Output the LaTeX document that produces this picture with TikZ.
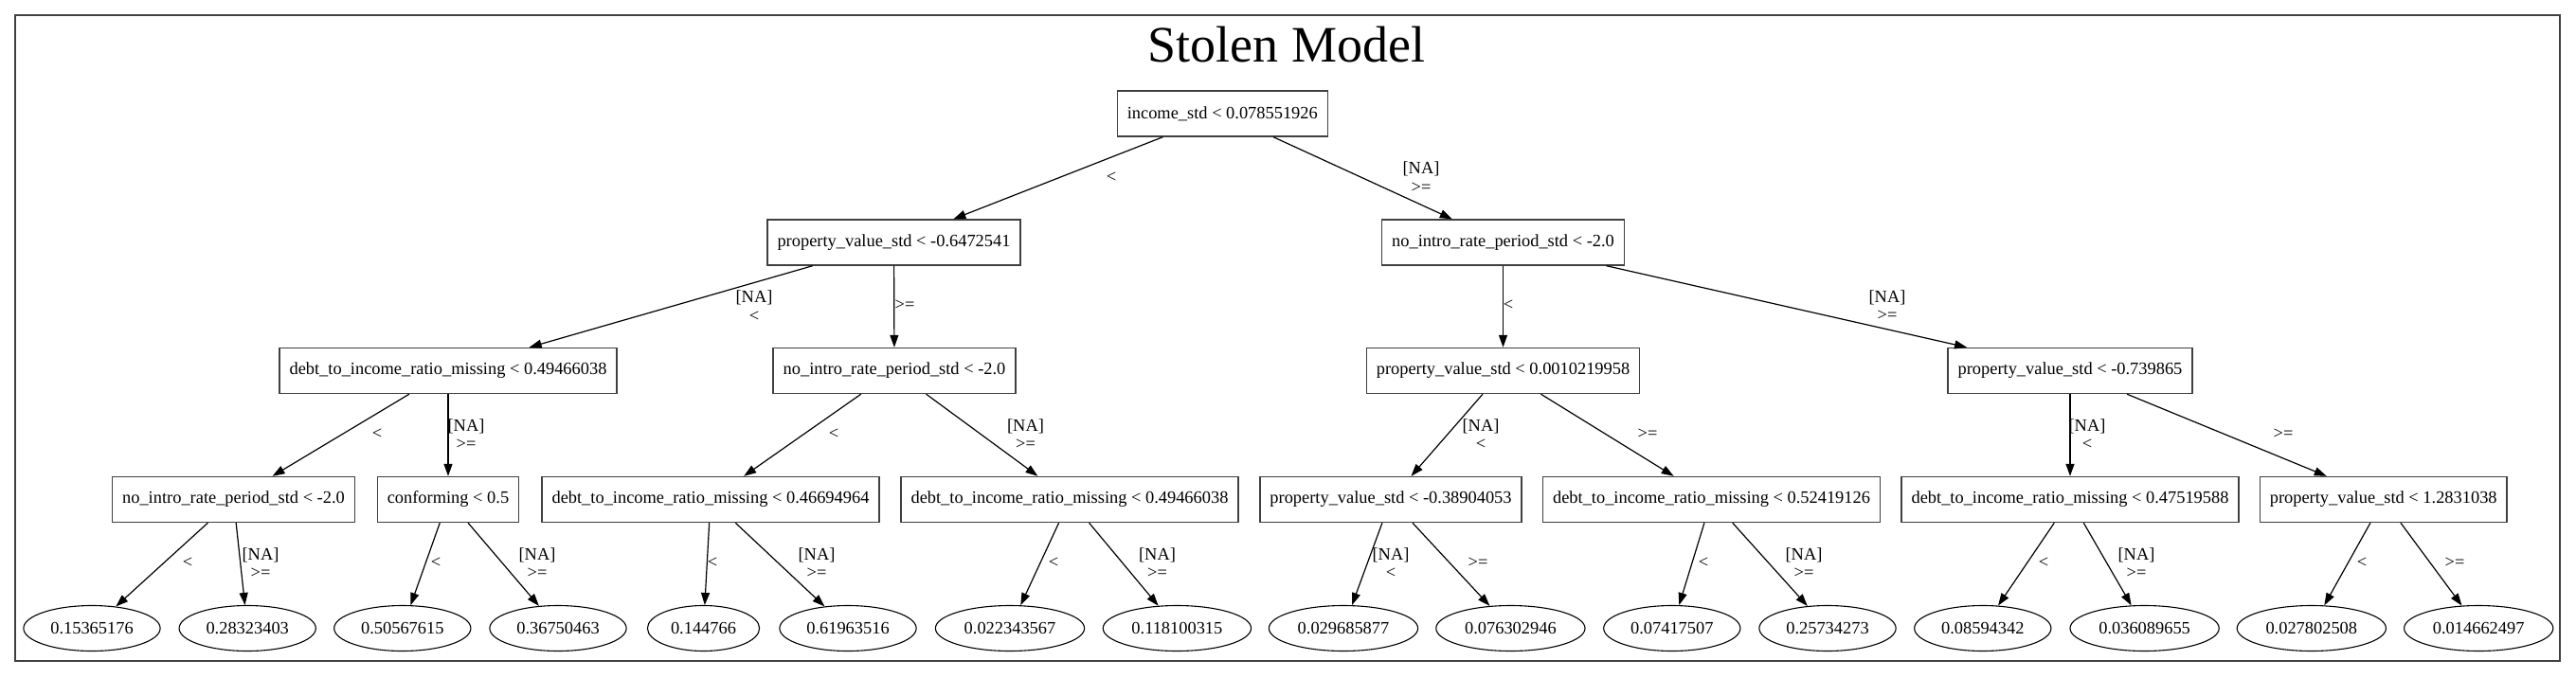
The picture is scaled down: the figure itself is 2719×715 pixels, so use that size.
\documentclass[tikz,border=0pt]{standalone}
\usepackage{fontspec}
\setmainfont{Liberation Serif}
\usepackage{tikz}
\usetikzlibrary{arrows.meta, shapes.geometric}
\definecolor{boxgray}{RGB}{64, 64, 64}

\begin{document}
\begin{tikzpicture}[
  x=1pt, y=-1pt,
  every node/.style={font=\fontsize{18.4}{19.5}\selectfont},
  split/.style={draw=boxgray, line width=1.4pt, rectangle, inner xsep=10.5pt, inner ysep=2pt, minimum height=48pt},
  leaf/.style={draw, line width=1.1pt, ellipse, inner xsep=7.3pt, inner ysep=2pt, minimum height=48pt},
  edge/.style={-{Triangle[length=13pt, width=9pt]}, line width=1.2pt},
  lab/.style={align=center, inner sep=0pt}
]
  \useasboundingbox (0,0) rectangle (2719,715);
  \draw[boxgray, line width=1.6pt] (16,16) rectangle (2702,698);
  \node[anchor=base, font=\fontsize{54}{60}\selectfont] (title) at (1358,65) {Stolen Model};

  % Wurzel und erste Ebene
  \node[split] (root) at (1290.3,120) {income\_std < 0.078551926};
  \node[split] (pv1) at (943.5,256) {property\_value\_std < -0.6472541};
  \node[split] (nir1) at (1586.5,256) {no\_intro\_rate\_period\_std < -2.0};

  % zweite Ebene
  \node[split] (dti2) at (473,391.5) {debt\_to\_income\_ratio\_missing < 0.49466038};
  \node[split] (nir2) at (944,391.5) {no\_intro\_rate\_period\_std < -2.0};
  \node[split] (pv2) at (1586.5,391.5) {property\_value\_std < 0.0010219958};
  \node[split] (pv3) at (2185,391.5) {property\_value\_std < -0.739865};

  % dritte Ebene
  \node[split] (nir3) at (246.5,527.5) {no\_intro\_rate\_period\_std < -2.0};
  \node[split] (conf) at (473,527.5) {conforming < 0.5};
  \node[split] (dti3) at (750,527.5) {debt\_to\_income\_ratio\_missing < 0.46694964};
  \node[split] (dti4) at (1129,527.5) {debt\_to\_income\_ratio\_missing < 0.49466038};
  \node[split] (pv4) at (1468,527.5) {property\_value\_std < -0.38904053};
  \node[split] (dti5) at (1806.5,527.5) {debt\_to\_income\_ratio\_missing < 0.52419126};
  \node[split] (dti6) at (2185,527.5) {debt\_to\_income\_ratio\_missing < 0.47519588};
  \node[split] (pv5) at (2515.7,527.5) {property\_value\_std < 1.2831038};

  % Blaetter
  \node[leaf] (l1) at (97,663.5) {0.15365176};
  \node[leaf] (l2) at (261.2,663.5) {0.28323403};
  \node[leaf] (l3) at (424.8,663.5) {0.50567615};
  \node[leaf] (l4) at (589,663.5) {0.36750463};
  \node[leaf] (l5) at (742.5,663.5) {0.144766};
  \node[leaf] (l6) at (895,663.5) {0.61963516};
  \node[leaf] (l7) at (1066,663.5) {0.022343567};
  \node[leaf] (l8) at (1242.4,663.5) {0.118100315};
  \node[leaf] (l9) at (1418,663.5) {0.029685877};
  \node[leaf] (l10) at (1594.4,663.5) {0.076302946};
  \node[leaf] (l11) at (1764.8,663.5) {0.07417507};
  \node[leaf] (l12) at (1929,663.5) {0.25734273};
  \node[leaf] (l13) at (2092.8,663.5) {0.08594342};
  \node[leaf] (l14) at (2263.6,663.5) {0.036089655};
  \node[leaf] (l15) at (2439.8,663.5) {0.027802508};
  \node[leaf] (l16) at (2616.2,663.5) {0.014662497};

  % Kanten
  \draw[edge] (root) -- (pv1) node[lab] (e1) at (1173,187) {<};
  \draw[edge] (root) -- (nir1) node[lab] (e2) at (1500,187) {[NA]\\>=};
  \draw[edge] (pv1) -- (dti2) node[lab] (e3) at (796,323) {[NA]\\<};
  \draw[edge] (pv1) -- (nir2) node[lab] (e4) at (955,322) {>=};
  \draw[edge] (nir1) -- (pv2) node[lab] (e5) at (1592,322) {<};
  \draw[edge] (nir1) -- (pv3) node[lab] (e6) at (1992,322.5) {[NA]\\>=};
  \draw[edge] (dti2) -- (nir3) node[lab] (e7) at (398,458) {<};
  \draw[edge] (dti2) -- (conf) node[lab] (e8) at (492,458.5) {[NA]\\>=};
  \draw[edge] (nir2) -- (dti3) node[lab] (e9) at (880,458) {<};
  \draw[edge] (nir2) -- (dti4) node[lab] (e10) at (1082.5,458.5) {[NA]\\>=};
  \draw[edge] (pv2) -- (pv4) node[lab] (e11) at (1563,458.5) {[NA]\\<};
  \draw[edge] (pv2) -- (dti5) node[lab] (e12) at (1739,458) {>=};
  \draw[edge] (pv3) -- (dti6) node[lab] (e13) at (2203,458.5) {[NA]\\<};
  \draw[edge] (pv3) -- (pv5) node[lab] (e14) at (2410,458) {>=};

  \draw[edge] (nir3) -- (l1) node[lab] (e15) at (198,594) {<};
  \draw[edge] (nir3) -- (l2) node[lab] (e16) at (275,594.5) {[NA]\\>=};
  \draw[edge] (conf) -- (l3) node[lab] (e17) at (460,594) {<};
  \draw[edge] (conf) -- (l4) node[lab] (e18) at (567,594.5) {[NA]\\>=};
  \draw[edge] (dti3) -- (l5) node[lab] (e19) at (752,594) {<};
  \draw[edge] (dti3) -- (l6) node[lab] (e20) at (862,594.5) {[NA]\\>=};
  \draw[edge] (dti4) -- (l7) node[lab] (e21) at (1112,594) {<};
  \draw[edge] (dti4) -- (l8) node[lab] (e22) at (1221.5,594.5) {[NA]\\>=};
  \draw[edge] (pv4) -- (l9) node[lab] (e23) at (1468,594.5) {[NA]\\<};
  \draw[edge] (pv4) -- (l10) node[lab] (e24) at (1560,594) {>=};
  \draw[edge] (dti5) -- (l11) node[lab] (e25) at (1798,594) {<};
  \draw[edge] (dti5) -- (l12) node[lab] (e26) at (1904,594.5) {[NA]\\>=};
  \draw[edge] (dti6) -- (l13) node[lab] (e27) at (2157,594) {<};
  \draw[edge] (dti6) -- (l14) node[lab] (e28) at (2255,594.5) {[NA]\\>=};
  \draw[edge] (pv5) -- (l15) node[lab] (e29) at (2493,594) {<};
  \draw[edge] (pv5) -- (l16) node[lab] (e30) at (2591,594) {>=};

\end{tikzpicture}
\end{document}
